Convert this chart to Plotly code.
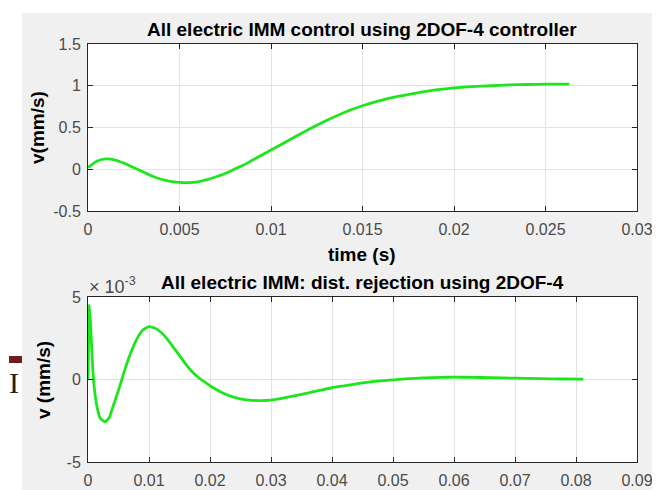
import plotly.graph_objects as go

# ---- data ----
t_ctrl = [0, 0.0005, 0.001, 0.0015, 0.002, 0.0025, 0.003, 0.0035, 0.004, 0.0045,
          0.005, 0.0055, 0.006, 0.0065, 0.007, 0.0075, 0.008, 0.0085, 0.009, 0.0095,
          0.01, 0.011, 0.012, 0.013, 0.014, 0.015, 0.016, 0.017, 0.018, 0.019,
          0.02, 0.021, 0.022, 0.023, 0.024, 0.025, 0.026, 0.0263]
v_ctrl = [0.02, 0.1, 0.125, 0.11, 0.07, 0.02, -0.03, -0.08, -0.12, -0.145,
          -0.158, -0.16, -0.15, -0.125, -0.09, -0.05, 0.0, 0.05, 0.11, 0.17,
          0.23, 0.35, 0.47, 0.58, 0.68, 0.76, 0.825, 0.875, 0.915, 0.95,
          0.975, 0.99, 1.0, 1.01, 1.015, 1.02, 1.02, 1.02]

t_dist = [0, 0.0001, 0.0002, 0.0004, 0.0007, 0.001, 0.0015, 0.002, 0.0028, 0.0035,
          0.004, 0.005, 0.006, 0.007, 0.008, 0.009, 0.01, 0.011, 0.012, 0.013,
          0.014, 0.015, 0.016, 0.017, 0.018, 0.019, 0.02, 0.022, 0.024, 0.026,
          0.028, 0.03, 0.032, 0.034, 0.036, 0.038, 0.04, 0.042, 0.044, 0.046,
          0.048, 0.05, 0.052, 0.055, 0.058, 0.06, 0.063, 0.066, 0.07, 0.074,
          0.078, 0.0812]
v_dist_e3 = [0, 2.5, 4.5, 3.5, 1.2, -0.4, -1.7, -2.35, -2.56, -2.3,
             -1.75, -0.65, 0.55, 1.6, 2.45, 3.0, 3.2, 3.1, 2.85, 2.45,
             1.95, 1.45, 0.95, 0.5, 0.15, -0.12, -0.38, -0.8, -1.08, -1.23,
             -1.28, -1.25, -1.13, -0.98, -0.82, -0.66, -0.5, -0.38, -0.26, -0.16,
             -0.08, -0.02, 0.04, 0.1, 0.13, 0.14, 0.13, 0.11, 0.08, 0.05,
             0.03, 0.02]

x1_ticks = [0, 0.005, 0.01, 0.015, 0.02, 0.025, 0.03]
x1_labels = ["0", "0.005", "0.01", "0.015", "0.02", "0.025", "0.03"]
y1_ticks = [-0.5, 0, 0.5, 1, 1.5]
y1_labels = ["-0.5", "0", "0.5", "1", "1.5"]
x2_ticks = [0, 0.01, 0.02, 0.03, 0.04, 0.05, 0.06, 0.07, 0.08, 0.09]
x2_labels = ["0", "0.01", "0.02", "0.03", "0.04", "0.05", "0.06", "0.07", "0.08", "0.09"]
y2_ticks = [-5, 0, 5]
y2_labels = ["-5", "0", "5"]

title_top = "All electric IMM control using 2DOF-4 controller"
title_bot = "All electric IMM: dist. rejection using 2DOF-4"

# the page body has an 8px margin: the figure starts at (8, 8) of the window
OFF = 8
W, H = 660 - OFF, 490 - OFF
FONT = "Liberation Sans, Arial, Helvetica, sans-serif"
GREEN = "#1ee61e"

def px(x):
    return (x - OFF) / W

def py(y):
    return 1 - (y - OFF) / H

fig = go.Figure()
fig.add_trace(go.Scatter(x=t_ctrl, y=v_ctrl, mode="lines",
                         line=dict(color=GREEN, width=2.8, shape="spline", smoothing=0.6),
                         xaxis="x", yaxis="y", showlegend=False))
fig.add_trace(go.Scatter(x=t_dist, y=v_dist_e3, mode="lines",
                         line=dict(color=GREEN, width=2.8, shape="spline", smoothing=0.5),
                         xaxis="x2", yaxis="y2", showlegend=False))

axis_common = dict(showline=True, linecolor="#262626", linewidth=1, mirror="allticks",
                   ticks="inside", ticklen=5, tickcolor="#262626",
                   showgrid=True, gridcolor="#e3e3e3", gridwidth=1, zeroline=False,
                   tickfont=dict(family=FONT, size=16, color="#4a4a4a"),
                   automargin=False, fixedrange=True)

fig.update_layout(
    width=W, height=H,
    margin=dict(l=0, r=0, t=0, b=0),
    paper_bgcolor="#f0f0f0", plot_bgcolor="white",
    xaxis=dict(domain=[px(88), px(637)], anchor="y", range=[0, 0.03],
               tickvals=x1_ticks, ticktext=x1_labels, ticklabelstandoff=4, **axis_common),
    yaxis=dict(domain=[py(211), py(44)], anchor="x", range=[-0.5, 1.5],
               tickvals=y1_ticks, ticktext=y1_labels, ticklabelstandoff=3, **axis_common),
    xaxis2=dict(domain=[px(88), px(637)], anchor="y2", range=[0, 0.09],
                tickvals=x2_ticks, ticktext=x2_labels, ticklabelstandoff=4, **axis_common),
    yaxis2=dict(domain=[py(462), py(297)], anchor="x2", range=[-5, 5],
                tickvals=y2_ticks, ticktext=y2_labels, ticklabelstandoff=3, **axis_common),
)

bold = dict(family=FONT, size=19, color="black")
ann = [
    dict(text="<b>%s</b>" % title_top, x=px(362), y=py(30), font=bold),
    dict(text="<b>time (s)</b>", x=px(362), y=py(255), font=bold),
    dict(text="<b>%s</b>" % title_bot, x=px(362), y=py(282), font=bold),
    dict(text="<b>v(mm/s)</b>", x=px(37), y=py(128), font=bold, textangle=-90),
    dict(text="<b>v (mm/s)</b>", x=px(43), y=py(380), font=bold, textangle=-90),
    dict(text="× 10<sup>-3</sup>", x=px(87), y=py(285), xanchor="left",
         font=dict(family=FONT, size=18, color="#4a4a4a")),
    dict(text="I", x=px(14), y=py(382),
         font=dict(family="Liberation Serif, serif", size=30, color="#222222")),
]
for a in ann:
    a.setdefault("xanchor", "center")
    a.setdefault("yanchor", "middle")
    fig.add_annotation(xref="paper", yref="paper", showarrow=False, **a)

# white slide strips around the grey figure window, plus the slide's red bar
fig.add_shape(type="rect", xref="paper", yref="paper", x0=0, x1=px(22), y0=0, y1=1,
              fillcolor="white", line=dict(width=0), layer="above")
fig.add_shape(type="rect", xref="paper", yref="paper", x0=0, x1=1, y0=py(13), y1=1,
              fillcolor="white", line=dict(width=0), layer="above")
fig.add_shape(type="rect", xref="paper", yref="paper", x0=px(9), x1=px(22),
              y0=py(363), y1=py(356), fillcolor="#6b1f1f", line=dict(width=0), layer="above")

fig.write_html("out.html")
